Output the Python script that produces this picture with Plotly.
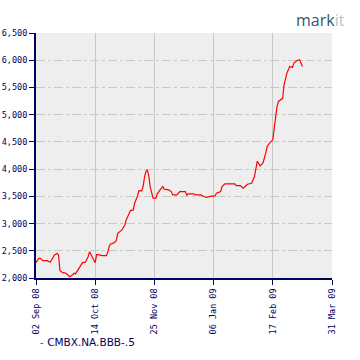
import plotly.graph_objects as go
import pandas as pd

start = pd.Timestamp("2008-09-02")
day_offsets = [0, 2, 3, 5, 8, 10, 11, 12, 13, 15, 16, 17, 18, 19, 21, 23, 24, 26, 27, 28,
               30, 32, 33, 35, 37, 38, 39, 41, 42, 43, 44, 47, 50, 51, 52, 53, 55, 57, 58, 61,
               63, 64, 66, 67, 69, 70, 72, 73, 75, 76, 77, 78, 79, 80, 81, 83, 85, 86, 88, 90,
               91, 94, 96, 97, 100, 101, 102, 106, 107, 108, 112, 113, 117, 119, 121, 124, 127, 128, 131, 132,
               134, 141, 142, 145, 147, 150, 153, 155, 156, 157, 159, 161, 163, 164, 166, 168, 169, 170, 171, 172,
               174, 175, 176, 177, 178, 180, 182, 183, 185, 187, 188, 189]
values = [2281, 2362, 2362, 2318, 2318, 2290, 2330, 2392, 2420, 2454, 2420, 2134, 2120, 2098, 2090, 2049, 2025, 2060, 2086, 2075,
          2159, 2239, 2282, 2290, 2392, 2484, 2430, 2343, 2282, 2429, 2430, 2410, 2410, 2484, 2588, 2625, 2640, 2686, 2821, 2883,
          2975, 3067, 3201, 3238, 3250, 3373, 3508, 3606, 3600, 3680, 3852, 3955, 3986, 3876, 3680, 3471, 3465, 3545, 3618, 3680,
          3631, 3618, 3587, 3526, 3526, 3557, 3587, 3587, 3520, 3545, 3545, 3526, 3526, 3496, 3483, 3502, 3502, 3557, 3587, 3680,
          3729, 3729, 3698, 3698, 3650, 3723, 3741, 3863, 4047, 4145, 4060, 4109, 4293, 4415, 4488, 4538, 4753, 4979, 5151, 5243,
          5292, 5300, 5549, 5691, 5764, 5886, 5868, 5948, 5991, 6009, 5960, 5886]
dates = [start + pd.Timedelta(days=d) for d in day_offsets]

series_name = "CMBX.NA.BBB-.5"
x_ticks = ["2008-09-02", "2008-10-14", "2008-11-25", "2009-01-06", "2009-02-17", "2009-03-31"]
x_ticktext = ["02 Sep 08", "14 Oct 08", "25 Nov 08", "06 Jan 09", "17 Feb 09", "31 Mar 09"]
y_ticks = [2000, 2500, 3000, 3500, 4000, 4500, 5000, 5500, 6000, 6500]

navy = "#00005e"
tickfont = dict(family="DejaVu Sans Mono", size=8.5, color=navy)

fig = go.Figure()
fig.add_trace(go.Scatter(x=dates, y=values, mode="lines", name=series_name,
                         line=dict(color="#ff0000", width=1.2), showlegend=False))

fig.update_layout(
    width=360, height=360,
    margin=dict(l=36, r=28, t=33, b=82, autoexpand=False),
    paper_bgcolor="white", plot_bgcolor="#eeeeee",
    xaxis=dict(range=["2008-09-02", "2009-03-31"], tickvals=x_ticks, ticktext=x_ticktext,
               tickangle=-90, tickfont=tickfont, showgrid=True, gridcolor="#c8c8c8", gridwidth=1,
               showline=True, linecolor=navy, linewidth=2, ticks="outside", ticklen=5,
               tickcolor=navy, zeroline=False, automargin=False),
    yaxis=dict(range=[2000, 6500], tickvals=y_ticks, tickformat=",", tickfont=tickfont,
               showgrid=True, gridcolor="#c8c8c8", gridwidth=1, griddash="dashdot",
               showline=True, linecolor=navy, linewidth=2, ticks="outside", ticklen=5,
               tickcolor=navy, zeroline=False, automargin=False),
    annotations=[
        dict(xref="paper", yref="paper", x=0.007, y=-0.262, xanchor="left", yanchor="middle",
             text="<span style='color:#ff0000'>-</span> " + series_name, showarrow=False,
             font=dict(family="DejaVu Sans", size=10.5, color=navy)),
        dict(xref="paper", yref="paper", x=1.05, y=1.0, xanchor="right", yanchor="bottom",
             text="<span style='color:#2f5a6e'>mark</span><span style='color:#a6cbd4'>it</span>",
             showarrow=False, font=dict(family="Open Sans", size=16)),
    ],
)

fig.write_html("out.html", post_script="document.body.style.margin='0';",
               config={"displayModeBar": False})
